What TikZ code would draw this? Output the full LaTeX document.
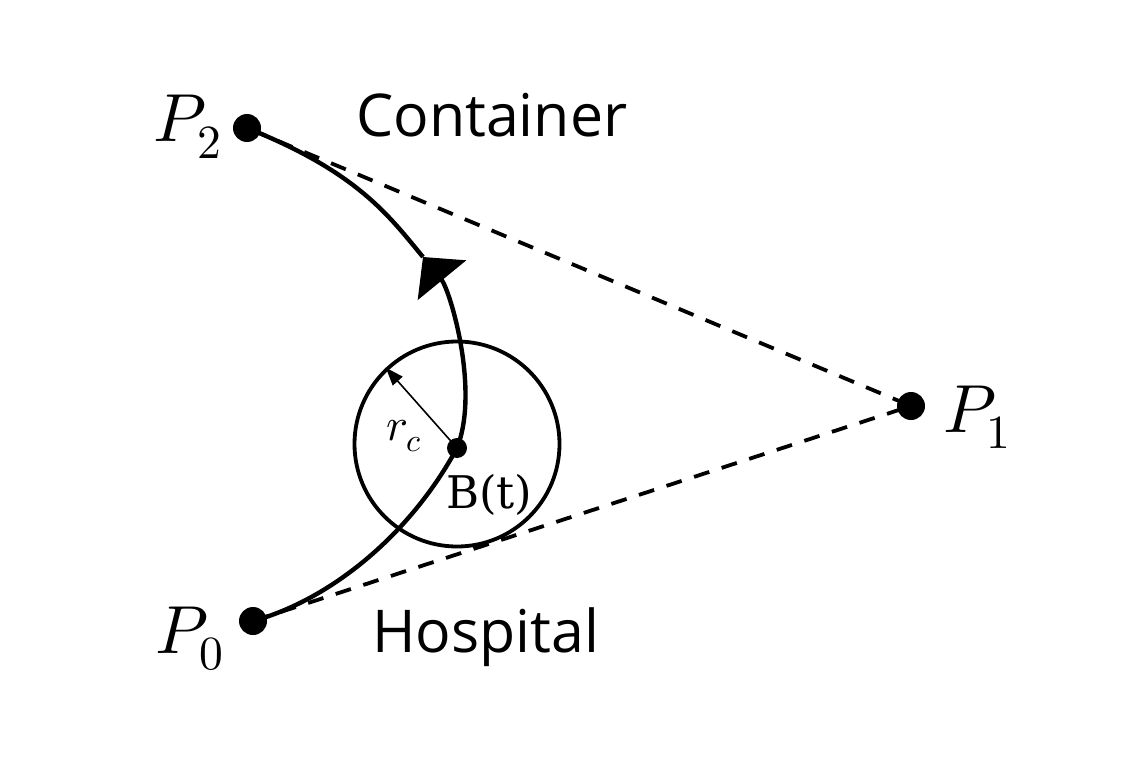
\documentclass[tikz,border=0pt]{standalone}
\usepackage{fontspec}
\usepackage{unicode-math}
\setmathfont{Latin Modern Math}
\newfontfamily\labelsans{Open Sans}
\newfontfamily\labelserif{DejaVu Serif}
\usetikzlibrary{arrows.meta}
\tikzset{
  dotnode/.style={circle, fill=black, inner sep=0pt, minimum size=28pt},
  smalldot/.style={circle, fill=black, inner sep=0pt, minimum size=20pt},
  curveline/.style={line width=4.4pt},
  dashline/.style={line width=3.8pt, dash pattern=on 16pt off 13pt},
  ptlabel/.style={inner sep=0pt, font=\fontsize{68}{80}\selectfont},
  wordlabel/.style={inner sep=0pt, font=\labelsans\fontsize{59}{70}\selectfont},
  smalllabel/.style={inner sep=0pt, font=\fontsize{46}{52}\selectfont},
  seriflabel/.style={inner sep=0pt, font=\labelserif\fontsize{45}{52}\selectfont},
}
\begin{document}
\begin{tikzpicture}[x=1pt, y=-1pt]
\useasboundingbox (0,0) rectangle (1140,762);
% points
\node[dotnode] (p0) at (253,621) {};
\node[dotnode] (p1) at (911,406) {};
\node[dotnode] (p2) at (247,128) {};
\node[smalldot] (b) at (457,448) {};
\coordinate (t) at (423,257);
% dashed control polygon
\draw[dashline] (p0.center) -- (p1.center) -- (p2.center);
% curve
\draw[curveline] (p0.center) .. controls (330,600) and (410,535) .. (b.center);
\draw[curveline, -{Triangle[length=30pt, width=62pt]}] (b.center) .. controls (480,390) and (450,290) .. (t);
\draw[curveline] (t) .. controls (387.8,214.4) and (357,172) .. (p2.center);
% circle of radius r_c
\node[circle, draw, line width=3.8pt, minimum size=205pt, inner sep=0pt] (circ) at (457,444) {};
\draw[line width=1.6pt, -{Triangle[length=18pt, width=13pt]}] (b.center) -- (circ.133);
% labels
\node[ptlabel, anchor=base east] (lp2) at (222,142) {$P_2$};
\node[ptlabel, anchor=base west] (lp1) at (943,432) {$P_1$};
\node[ptlabel, anchor=base east] (lp0) at (224,653) {$P_0$};
\node[wordlabel, anchor=base west] (lcont) at (356,137) {Container};
\node[wordlabel, anchor=base west] (lhosp) at (372,652) {Hospital};
\node[seriflabel, anchor=base west] (lb) at (446,508) {B(t)};
\node[smalllabel, anchor=base west] (lr) at (386,440) {$r_c$};
\end{tikzpicture}
\end{document}
